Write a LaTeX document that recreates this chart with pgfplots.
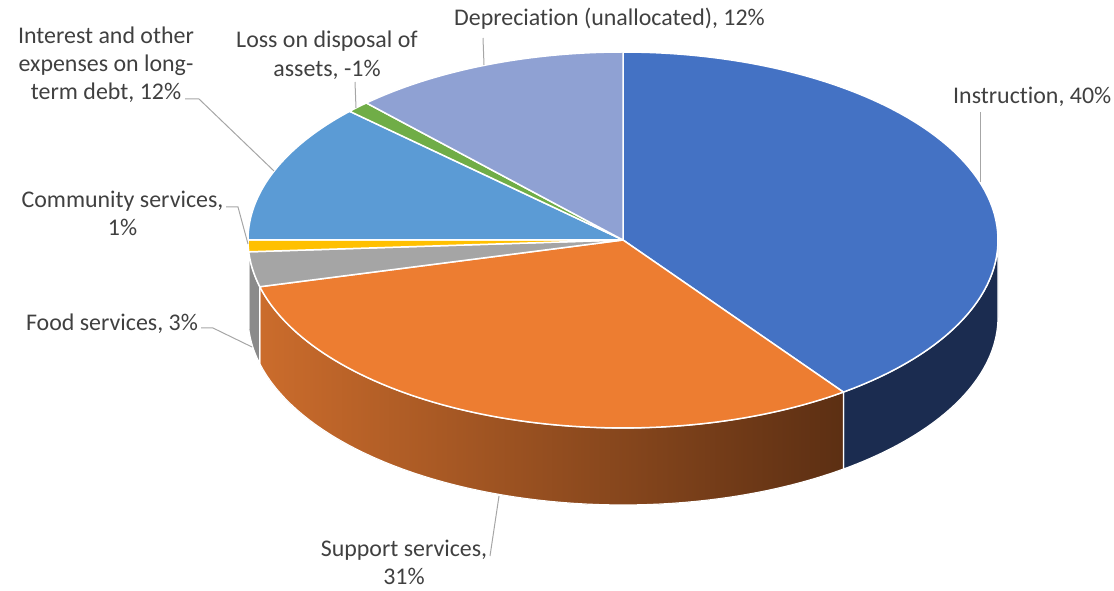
\documentclass[border=0pt]{standalone}
\usepackage{pgfplots}
\pgfplotsset{compat=1.18}
\usepgfplotslibrary{fillbetween}
\usepackage{fontspec}
\setmainfont[Ligatures=NoCommon]{Carlito}
\definecolor{cInstr}{HTML}{4472C4}
\definecolor{cInstrW}{HTML}{1B2C50}
\definecolor{cSup}{HTML}{ED7D31}
\definecolor{cSupL}{HTML}{CB6C2C}
\definecolor{cSupR}{HTML}{5C2F13}
\definecolor{cFood}{HTML}{A5A5A5}
\definecolor{cFoodW}{HTML}{8A8A8A}
\definecolor{cCom}{HTML}{FFC000}
\definecolor{cComW}{HTML}{C09000}
\definecolor{cInt}{HTML}{5B9BD5}
\definecolor{cLoss}{HTML}{70AD47}
\definecolor{cDep}{HTML}{8FA1D3}
\definecolor{cTxt}{HTML}{404040}
\definecolor{cLead}{HTML}{A6A6A6}
\def\cx{623}\def\cy{351}\def\rx{375}\def\ry{188}\def\dep{77}
\newcounter{wallno}
\def\curang{90}
\newcommand{\piewall}[2]{%
  \pgfmathsetmacro\sEnd{\curang-3.6*abs(#1)}%
  \pgfmathsetmacro\sA{min(\curang,0)}%
  \pgfmathsetmacro\sB{max(\sEnd,-180)}%
  \pgfmathtruncatemacro\showwall{\sA>\sB+0.01 ? 1 : 0}%
  \ifnum\showwall=1
    \stepcounter{wallno}%
    \edef\doplot{%
      \noexpand\addplot[name path=wt\thewallno, draw=none, domain=\sB:\sA, samples=60] ({\cx+\rx*cos(x)},{\cy+\ry*sin(x)});
      \noexpand\addplot[name path=wb\thewallno, draw=none, domain=\sB:\sA, samples=60] ({\cx+\rx*cos(x)},{\cy-\dep+\ry*sin(x)});
      \noexpand\addplot[#2, draw=white, line width=1.2bp] fill between[of=wt\thewallno\space and wb\thewallno];
    }%
    \doplot
  \fi
  \global\let\curang\sEnd
}
\newcommand{\pietop}[2]{%
  \pgfmathsetmacro\sEnd{\curang-3.6*abs(#1)}%
  \edef\doplot{\noexpand\addplot[fill=#2, draw=white, line width=1.5bp, line join=round, domain=\sEnd:\curang, samples=80] ({\cx+\rx*cos(x)},{\cy+\ry*sin(x)}) -- (axis cs:\cx,\cy) -- cycle;}%
  \doplot
  \global\let\curang\sEnd
}
\begin{document}
\begin{tikzpicture}
\begin{axis}[width=1114bp, height=591bp, scale only axis,
  xmin=0, xmax=1114, ymin=0, ymax=591, hide axis, clip=false]
% side walls (front half)
\gdef\curang{90}
\piewall{40}{fill=cInstrW}
\piewall{31}{left color=cSupL, right color=cSupR}
\piewall{3}{fill=cFoodW}
\piewall{1}{fill=cComW}
\piewall{12}{fill=none}
\piewall{-1}{fill=none}
\piewall{12}{fill=none}
% top faces
\gdef\curang{90}
\pietop{40}{cInstr}
\pietop{31}{cSup}
\pietop{3}{cFood}
\pietop{1}{cCom}
\pietop{12}{cInt}
\pietop{-1}{cLoss}
\pietop{12}{cDep}
% leader lines
\addplot[cLead, line width=1bp] coordinates {(483,553) (484,526)};
\addplot[cLead, line width=1bp] coordinates {(980,479) (980,409)};
\addplot[cLead, line width=1bp] coordinates {(185,492) (199,492) (274,420)};
\addplot[cLead, line width=1bp] coordinates {(355,509) (356,483)};
\addplot[cLead, line width=1bp] coordinates {(226,384) (238,384) (248,347)};
\addplot[cLead, line width=1bp] coordinates {(201,263) (213,263) (252,244)};
\addplot[cLead, line width=1bp] coordinates {(490,35) (499,95)};
% labels
\tikzset{lbl/.style={text=cTxt, inner sep=0pt, font=\fontsize{24}{28}\selectfont}}
\node[lbl, anchor=base] at (axis cs:609.5,565) {Depreciation (unallocated), 12\%};
\node[lbl, anchor=base west] at (axis cs:953,487) {Instruction, 40\%};
\node[lbl, anchor=base] at (axis cs:106,547) {Interest and other};
\node[lbl, anchor=base] at (axis cs:106,519) {expenses on long-};
\node[lbl, anchor=base] at (axis cs:106,491) {term debt, 12\%};
\node[lbl, anchor=base] at (axis cs:327,543) {Loss on disposal of};
\node[lbl, anchor=base] at (axis cs:327,514) {assets, -1\%};
\node[lbl, anchor=base] at (axis cs:122.5,383) {Community services,};
\node[lbl, anchor=base] at (axis cs:122.5,355) {1\%};
\node[lbl, anchor=base] at (axis cs:112,260) {Food services, 3\%};
\node[lbl, anchor=base] at (axis cs:404,34) {Support services,};
\node[lbl, anchor=base] at (axis cs:404,7) {31\%};
\end{axis}
\pgfresetboundingbox
\path[use as bounding box] (0,0) rectangle (1114bp,591bp);
\end{tikzpicture}
\end{document}
